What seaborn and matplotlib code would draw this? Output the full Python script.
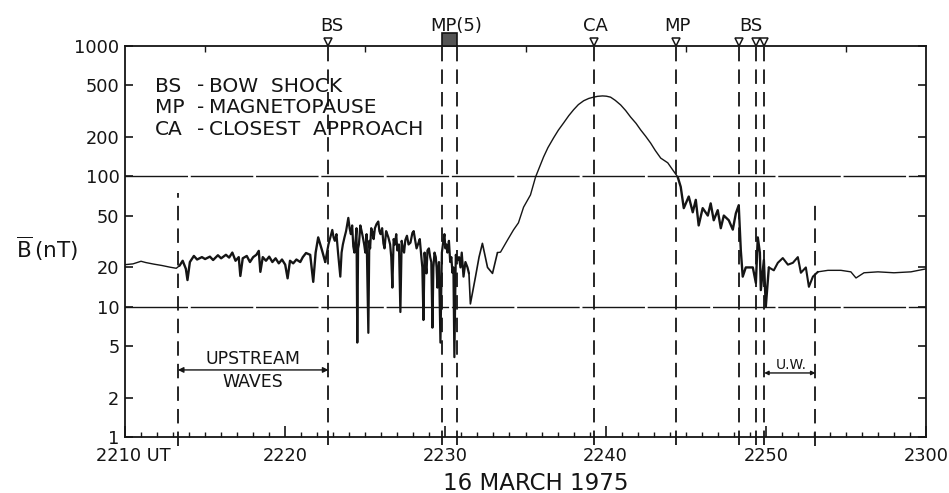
import numpy as np
import pandas as pd
import matplotlib
matplotlib.use("Agg")
import matplotlib.pyplot as plt
import matplotlib.transforms as mtransforms
from matplotlib.patches import Rectangle
import seaborn as sns

# ---------------- data (time = minutes after 22:00 UT, field in nT) -------------
# quiet inbound solar wind
t_calm_in = [10.0, 10.5, 11.0, 11.3, 11.8, 12.3, 12.8, 13.2, 13.4]
b_calm_in = [21.0, 21.3, 22.3, 21.8, 21.2, 20.7, 20.1, 19.7, 20.6]
# inbound upstream waves
t_uw_in = [13.6, 13.8, 13.9, 14.05, 14.3, 14.5, 14.8, 15.0, 15.3, 15.5, 15.8, 16.0,
           16.3, 16.5, 16.7, 16.9, 17.1, 17.2, 17.35, 17.6, 17.8, 18.0, 18.2, 18.35,
           18.45, 18.6, 18.8, 19.0, 19.2, 19.4, 19.6, 19.8, 20.0, 20.15, 20.3, 20.5,
           20.7, 20.94, 21.1, 21.3, 21.56, 21.75, 21.9, 22.06, 22.3, 22.5]
b_uw_in = [22.5, 19.5, 16.0, 22.0, 24.5, 23.0, 24.0, 23.2, 24.2, 22.8, 24.8, 23.5,
           25.0, 23.8, 26.0, 22.5, 24.0, 17.2, 23.5, 24.5, 22.0, 24.0, 25.0, 26.8,
           18.5, 24.0, 22.5, 24.2, 22.0, 23.5, 21.5, 23.0, 21.0, 16.5, 22.5, 21.5,
           23.0, 22.0, 24.0, 25.8, 25.0, 15.5, 26.0, 34.0, 27.0, 22.0]
# inbound magnetosheath (turbulent part)
t_sh_in = [22.7, 22.94, 23.02, 23.1, 23.2, 23.3, 23.44, 23.52, 23.6, 23.7,
           23.8, 23.94, 24.02, 24.1, 24.18, 24.25, 24.32, 24.4, 24.45, 24.5,
           24.55, 24.6, 24.69, 24.77, 24.85, 24.93, 25.0, 25.08, 25.19, 25.25,
           25.3, 25.37, 25.44, 25.52, 25.6, 25.7, 25.81, 25.88, 25.95, 26.05,
           26.13, 26.2, 26.3, 26.37, 26.44, 26.55, 26.62, 26.69, 26.77, 26.85,
           26.93, 27.0, 27.1, 27.19, 27.27, 27.35, 27.42, 27.5, 27.6, 27.7,
           27.82, 27.94, 28.02, 28.1, 28.2, 28.31, 28.4, 28.5, 28.56, 28.63,
           28.7, 28.75, 28.82, 28.88, 28.97, 29.05, 29.12, 29.19, 29.25, 29.32,
           29.4, 29.45, 29.5, 29.6, 29.69, 29.78, 29.88, 29.94, 30.0, 30.06,
           30.13, 30.22, 30.3, 30.37, 30.44, 30.5, 30.56, 30.65, 30.75, 30.85,
           30.94, 31.02, 31.13, 31.25, 31.38, 31.47]
b_sh_in = [30.0, 38.8, 34.0, 32.0, 36.0, 25.8, 17.0, 26.0, 30.0, 34.0,
           38.0, 48.0, 40.0, 36.0, 42.0, 29.0, 26.0, 33.0, 40.0, 5.3,
           28.0, 30.0, 42.0, 38.0, 34.0, 30.0, 26.0, 36.0, 6.3, 32.0,
           28.0, 40.0, 37.5, 33.0, 40.0, 43.0, 45.0, 38.0, 36.0, 40.0,
           30.6, 28.0, 38.0, 36.0, 34.0, 30.0, 24.0, 14.0, 33.0, 30.0,
           36.0, 27.0, 30.0, 9.1, 32.0, 28.0, 26.0, 32.5, 35.0, 30.0,
           31.0, 36.8, 38.0, 33.0, 28.0, 30.6, 33.0, 24.0, 20.0, 7.9,
           26.0, 22.0, 18.0, 27.0, 28.0, 24.0, 22.0, 6.9, 20.0, 26.0,
           24.0, 20.0, 14.0, 22.0, 5.3, 26.0, 32.5, 36.0, 28.0, 30.0,
           26.0, 32.0, 22.0, 24.0, 18.2, 20.0, 4.1, 25.0, 22.8, 24.0,
           20.0, 26.0, 17.0, 22.0, 20.0, 18.0]
# inbound magnetosheath (quieter tail before magnetopause)
t_sh_tail = [31.56, 31.88, 32.1, 32.31, 32.63, 32.94, 33.25]
b_sh_tail = [10.5, 17.0, 24.0, 30.6, 20.0, 18.0, 26.0]
# magnetosphere
t_msph = [33.44, 33.88, 34.25, 34.56, 34.88, 35.31, 35.63, 36.13, 36.4, 36.75, 37.05,
          37.38, 37.7, 38.0, 38.3, 38.63, 38.95, 39.25, 39.5, 39.81, 40.05, 40.31, 40.6,
          40.94, 41.25, 41.56, 41.9, 42.19, 42.5, 42.81, 43.1, 43.44, 43.88, 44.19, 44.5]
b_msph = [26.2, 32.5, 38.8, 44.0, 58.0, 72.0, 99.0, 141.0, 166.0, 197.0, 226.0,
          257.0, 292.0, 324.0, 355.0, 380.0, 396.0, 405.0, 411.0, 414.0, 412.0, 405.0, 383.0,
          353.0, 320.0, 285.0, 255.0, 227.0, 203.0, 180.0, 158.0, 138.0, 127.0, 112.0, 99.0]
# outbound magnetosheath
t_sh_out = [44.69, 44.88, 45.19, 45.44, 45.63, 45.81, 46.06, 46.38, 46.56, 46.75, 47.0,
            47.19, 47.38, 47.69, 47.94, 48.13, 48.31, 48.44, 48.56, 48.75, 49.19, 49.38,
            49.5, 49.63, 49.69, 49.88, 50.0, 50.19]
b_sh_out = [83.0, 57.0, 70.0, 53.0, 66.0, 42.0, 57.0, 50.0, 62.0, 46.0, 55.0,
            40.0, 50.0, 46.0, 39.0, 52.0, 60.0, 27.0, 17.0, 20.0, 20.0, 15.2,
            34.0, 26.0, 13.4, 22.8, 10.0, 20.0]
# outbound upstream waves
t_uw_out = [50.5, 50.75, 51.06, 51.38, 51.69, 52.0, 52.19, 52.5, 52.69, 52.94, 53.25]
b_uw_out = [19.0, 21.7, 23.6, 21.0, 21.7, 24.0, 18.2, 20.0, 14.2, 17.0, 18.5]
# quiet outbound solar wind
t_calm_out = [53.88, 54.69, 55.31, 55.63, 56.13, 57.0, 58.0, 59.06, 60.0]
b_calm_out = [19.0, 19.0, 18.5, 16.6, 18.2, 18.5, 18.2, 18.5, 19.5]

# boundary crossings
event_times = [22.7, 29.8, 30.7, 39.3, 44.4, 48.3, 49.4, 49.9]
marker_times = [22.7, 39.3, 44.4, 48.3, 49.4, 49.9]
mp5_span = [29.8, 30.7]
label_names = ["BS", "MP(5)", "CA", "MP", "BS"]
label_times = [22.94, 30.69, 39.38, 44.5, 49.06]
uw_times = [13.3, 53.1]          # upstream-wave interval boundaries
uw_top = [75.0, 68.0]
upstream_span = [13.3, 22.7]
uw_span = [49.9, 53.1]

xtick_pos = [10, 20, 30, 40, 50, 60]
xtick_labels = ["2210 UT", "2220", "2230", "2240", "2250", "2300"]
ytick_pos = [1, 2, 5, 10, 20, 50, 100, 200, 500, 1000]
ytick_labels = ["1", "2", "5", "10", "20", "50", "100", "200", "500", "1000"]

segments = [
    (t_calm_in, b_calm_in, 1.0),
    (t_uw_in, b_uw_in, 1.7),
    (t_sh_in, b_sh_in, 1.6),
    (t_sh_tail, b_sh_tail, 1.2),
    (t_msph, b_msph, 1.0),
    (t_sh_out, b_sh_out, 1.7),
    (t_uw_out, b_uw_out, 1.5),
    (t_calm_out, b_calm_out, 1.0),
]

# ---------------- figure -----------------
sns.set_style("ticks")
plt.rcParams["font.family"] = ["DejaVu Sans"]
W, H = 949, 493
fig = plt.figure(figsize=(W / 100, H / 100), dpi=100)
ax = fig.add_axes([125 / W, 1 - 437 / H, (926 - 125) / W, (437 - 46) / H])

ink = "#151515"
prev = None
for ts, bs, lw in segments:
    tt, bb = list(ts), list(bs)
    if prev is not None:
        tt = [prev[0]] + tt
        bb = [prev[1]] + bb
    seg = pd.DataFrame({"t": tt, "B": bb})
    sns.lineplot(data=seg, x="t", y="B", ax=ax, color=ink, lw=lw, sort=False,
                 estimator=None)
    prev = (ts[-1], bs[-1])

ax.set_yscale("log")
ax.set_xlim(10, 60)
ax.set_ylim(1, 1000)

for s in ax.spines.values():
    s.set_color(ink)
    s.set_linewidth(1.3)

ax.set_yticks(ytick_pos)
ax.set_yticklabels(ytick_labels)
ax.yaxis.set_minor_locator(matplotlib.ticker.NullLocator())
ax.set_xticks(xtick_pos)
ax.set_xticklabels(xtick_labels)
ax.set_xticks(np.arange(10, 61, 1), minor=True)
ax.tick_params(axis="y", which="major", direction="in", length=6, width=1.2,
               labelsize=12.8, pad=4, right=True, colors=ink)
ax.tick_params(axis="x", which="major", direction="in", length=8, width=1.2,
               labelsize=12.8, pad=7, colors=ink)
ax.tick_params(axis="x", which="minor", direction="in", length=3.5, width=1.0,
               colors=ink)
ax.set_xlabel("")
ax.set_ylabel("")
lab0 = ax.get_xticklabels()[0]
lab0.set_transform(lab0.get_transform() +
                   mtransforms.ScaledTranslation(8 / 100, 0, fig.dpi_scale_trans))

secx = ax.secondary_xaxis("top")
secx.set_xticks([15, 25, 35, 45, 55])
secx.set_xticklabels([])
secx.tick_params(direction="in", length=4, width=1.0, colors=ink)
secx.spines["top"].set_visible(False)

# horizontal reference lines
for yv in [10, 100]:
    ax.axhline(yv, color=ink, lw=1.0, ls=(0, (45, 2)), zorder=1)

# vertical dashed boundary lines
blend = mtransforms.blended_transform_factory(ax.transData, ax.transAxes)
for tv in event_times:
    ax.plot([tv, tv], [-0.02, 1.0], transform=blend, color=ink, lw=1.3,
            ls=(0, (8, 4.5)), clip_on=False, zorder=2)
for tv, top in zip(uw_times, uw_top):
    ax.plot([tv, tv], [0.85, top], color=ink, lw=1.3, ls=(0, (8, 4.5)),
            clip_on=False, zorder=2)

# markers at top
ax.plot(marker_times, [1.01] * len(marker_times), transform=blend, ls="none",
        marker="v", ms=5.5, mfc="white", mec=ink, mew=1.1, clip_on=False, zorder=5)
ax.add_patch(Rectangle((mp5_span[0], 1.0), mp5_span[1] - mp5_span[0], 0.034,
                       transform=blend, facecolor="#555555", edgecolor=ink,
                       lw=1.2, clip_on=False, zorder=5))
for name, tv in zip(label_names, label_times):
    ax.text(tv, 1.052, name, transform=blend, ha="center", va="center",
            fontsize=13, color=ink)

# legend text block
leg_abbr = ["BS", "MP", "CA"]
leg_desc = ["BOW  SHOCK", "MAGNETOPAUSE", "CLOSEST  APPROACH"]
for i, (a, d) in enumerate(zip(leg_abbr, leg_desc)):
    yy = 1 - (86 + 21.5 * i) / H
    fig.text(155 / W, yy, a, ha="left", va="center", fontsize=14.5, color=ink)
    fig.text(197 / W, yy, "-", ha="left", va="center", fontsize=14.5, color=ink)
    fig.text(209 / W, yy, d, ha="left", va="center", fontsize=14.5, color=ink)

# upstream waves annotation
ax.annotate("", xy=(upstream_span[0], 3.27), xytext=(upstream_span[1], 3.27),
            arrowprops=dict(arrowstyle="<|-|>", color=ink, lw=1.0,
                            mutation_scale=8, shrinkA=0, shrinkB=0))
ax.text(np.mean(upstream_span), 3.97, "UPSTREAM", ha="center", va="center",
        fontsize=12.5, color=ink)
ax.text(np.mean(upstream_span), 2.62, "WAVES", ha="center", va="center",
        fontsize=12.5, color=ink)
ax.annotate("", xy=(uw_span[0], 3.1), xytext=(uw_span[1], 3.1),
            arrowprops=dict(arrowstyle="<|-|>", color=ink, lw=1.0,
                            mutation_scale=6, shrinkA=0, shrinkB=0))
ax.text(np.mean(uw_span) + 0.1, 3.55, "U.W.", ha="center", va="center",
        fontsize=10, color=ink)

# axis titles
fig.text(47 / W, 1 - 249 / H, r"$\overline{\mathrm{B}}\,\mathrm{(nT)}$",
         ha="center", va="center", fontsize=15.5, color=ink)
fig.text(536 / W, 1 - 483 / H, "16 MARCH 1975", ha="center", va="center",
         fontsize=16.5, color=ink)

fig.savefig("out.png", dpi=100, facecolor="white")
